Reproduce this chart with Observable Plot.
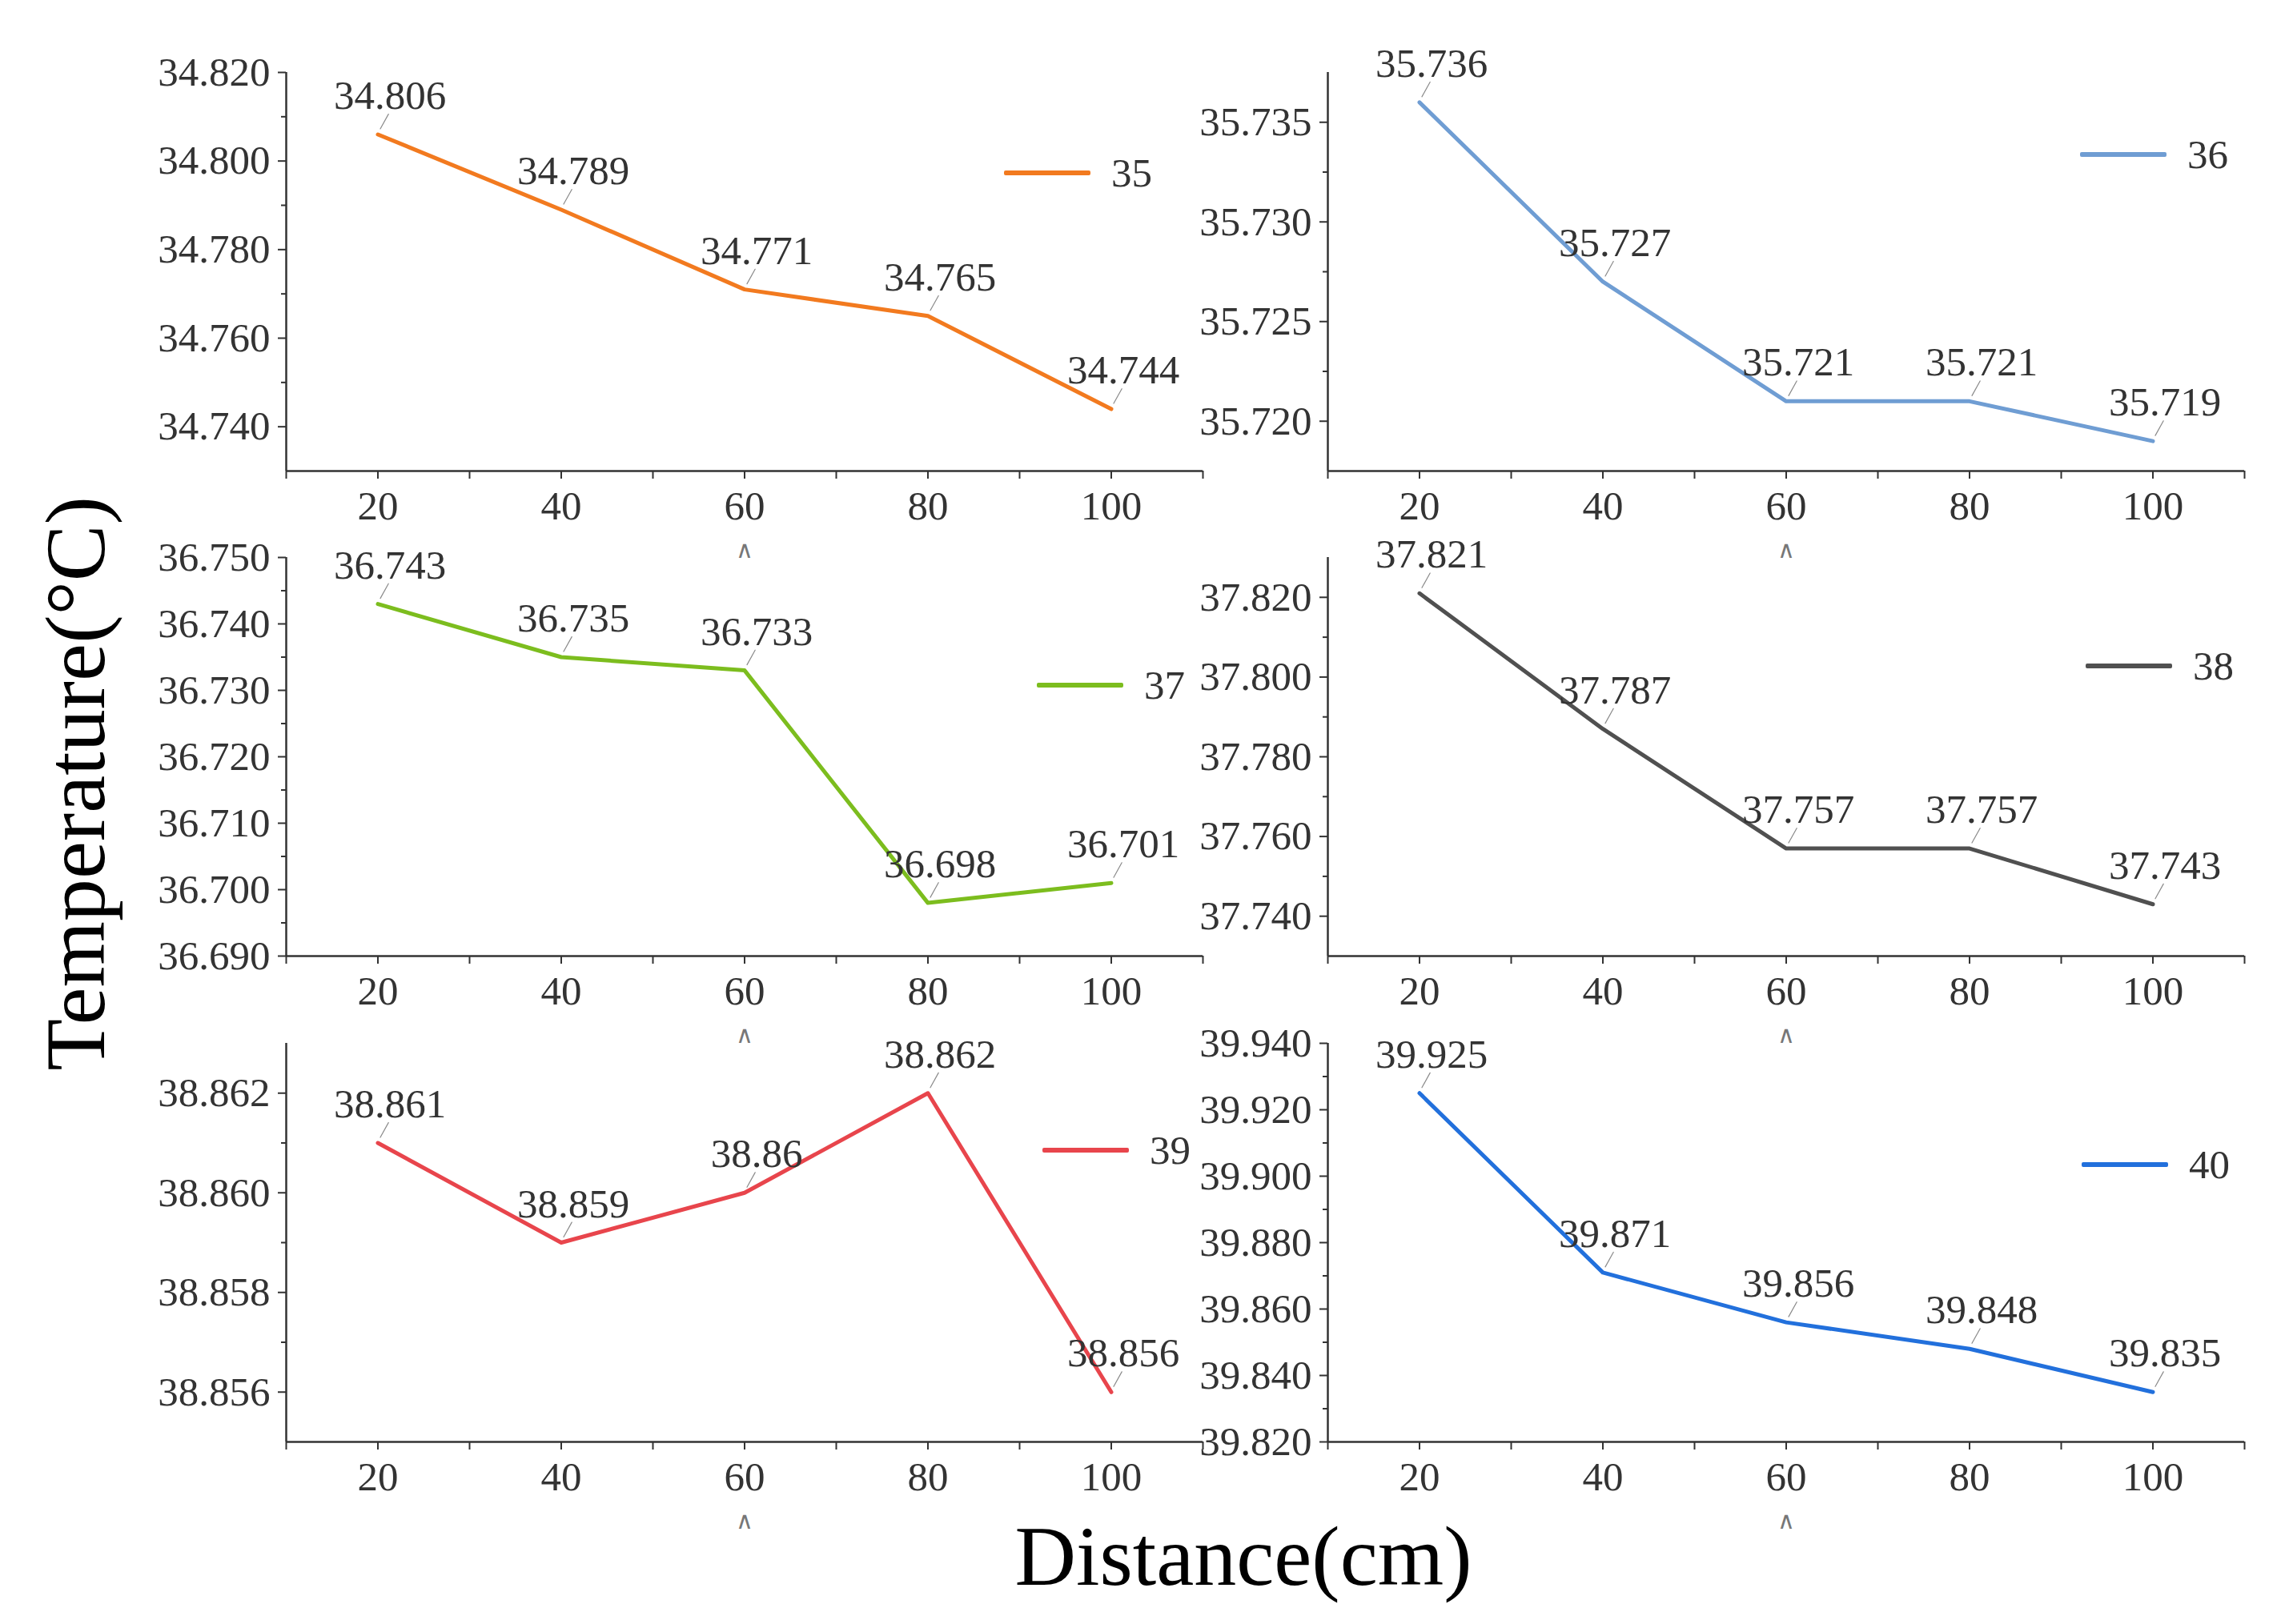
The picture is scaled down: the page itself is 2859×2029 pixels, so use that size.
<!DOCTYPE html>
<html>
<head>
<meta charset="utf-8">
<script src="https://cdn.jsdelivr.net/npm/d3@7"></script>
<script src="https://cdn.jsdelivr.net/npm/@observablehq/plot@0.6"></script>
<style>
  body { margin: 0; background: #fff; }
  #page { position: relative; width: 2859px; height: 2029px; background: #fff; overflow: hidden;
          font-family: "Liberation Serif", "Times New Roman", serif; }
  .panel { position: absolute; }
  .legend { position: absolute; display: flex; align-items: center; font-size: 51px; color: #333; }
  .legend .swatch { display: inline-block; width: 108px; height: 6px; margin-right: 26px; border-radius: 2px; }
  .title { position: absolute; color: #000; font-size: 106px; white-space: nowrap; }
</style>
</head>
<body>
<div id="page"></div>
<script>
// ----------------- data -----------------
const distance = [20, 40, 60, 80, 100];
const series = ["35", "36", "37", "38", "39", "40"];
const t35 = [34.806, 34.789, 34.771, 34.765, 34.744];
const t36 = [35.736, 35.727, 35.721, 35.721, 35.719];
const t37 = [36.743, 36.735, 36.733, 36.698, 36.701];
const t38 = [37.821, 37.787, 37.757, 37.757, 37.743];
const t39 = [38.861, 38.859, 38.86, 38.862, 38.856];
const t40 = [39.925, 39.871, 39.856, 39.848, 39.835];

// axis domains and tick labels
const xDomain = [10, 110];
const xTicks = [20, 40, 60, 80, 100];
const xMinor = [10, 30, 50, 70, 90, 110];
const dom35 = [34.730, 34.820], ticks35 = [34.740, 34.760, 34.780, 34.800, 34.820], minor35 = [34.750, 34.770, 34.790, 34.810];
const dom36 = [35.7175, 35.7375], ticks36 = [35.720, 35.725, 35.730, 35.735], minor36 = [35.7225, 35.7275, 35.7325];
const dom37 = [36.690, 36.750], ticks37 = [36.690, 36.700, 36.710, 36.720, 36.730, 36.740, 36.750], minor37 = [36.695, 36.705, 36.715, 36.725, 36.735, 36.745];
const dom38 = [37.730, 37.830], ticks38 = [37.740, 37.760, 37.780, 37.800, 37.820], minor38 = [37.750, 37.770, 37.790, 37.810];
const dom39 = [38.855, 38.863], ticks39 = [38.856, 38.858, 38.860, 38.862], minor39 = [38.857, 38.859, 38.861];
const dom40 = [39.820, 39.940], ticks40 = [39.820, 39.840, 39.860, 39.880, 39.900, 39.920, 39.940], minor40 = [39.830, 39.850, 39.870, 39.890, 39.910, 39.930];

// ----------------- layout -----------------
const colors = ["#f27a1f", "#6f9dd3", "#7cbd1e", "#505050", "#e8454c", "#2270dc"];
const plotW = 1145, plotH = 498;
const colLeft = [357, 1658];
const rowTop = [90, 696, 1303];
const M = { top: 40, right: 40, bottom: 150, left: 200 };
const legendPos = [[897, 126], [940, 103], [938, 160], [947, 136], [945, 134], [942, 152]];

const panels = [
  { values: t35, domain: dom35, ticks: ticks35, minor: minor35 },
  { values: t36, domain: dom36, ticks: ticks36, minor: minor36 },
  { values: t37, domain: dom37, ticks: ticks37, minor: minor37 },
  { values: t38, domain: dom38, ticks: ticks38, minor: minor38 },
  { values: t39, domain: dom39, ticks: ticks39, minor: minor39 },
  { values: t40, domain: dom40, ticks: ticks40, minor: minor40 }
];

const FONT = "'Liberation Serif', 'Times New Roman', serif";
const leader = { draw(ctx, l) { ctx.moveTo(0, 0); ctx.lineTo(0, -l); } };

function leaderMark(rows){
  const opts = { x: "d", y: "t", anchor: "start", length: 21, rotate: 29, dx: 3, dy: -7,
                 stroke: "#8a8a8a", strokeWidth: 1.2 };
  try { return Plot.vector(rows, { ...opts, shape: leader }); }
  catch (e) { return Plot.vector(rows, { ...opts, shape: "spike", r: 0.6 }); }
}

const page = document.getElementById("page");

panels.forEach((p, i) => {
  const col = i % 2, row = Math.floor(i / 2);
  const rows = distance.map((d, k) => ({ d, t: p.values[k] }));
  const color = colors[i];

  const fig = Plot.plot({
    width: M.left + plotW + M.right,
    height: M.top + plotH + M.bottom,
    marginTop: M.top, marginRight: M.right, marginBottom: M.bottom, marginLeft: M.left,
    style: { background: "transparent", overflow: "visible", fontFamily: FONT, fontSize: "51px", color: "#333" },
    x: { domain: xDomain, axis: null },
    y: { domain: p.domain, axis: null },
    marks: [
      Plot.axisY(p.ticks, { tickSize: 10, tickPadding: 10, tickFormat: d3.format(".3f"), label: null, fontSize: 51, strokeWidth: 2 }),
      Plot.axisY(p.minor, { tickSize: 6, tickFormat: () => null, label: null, strokeWidth: 2 }),
      Plot.axisX(xTicks, { tickSize: 10, tickPadding: 14, label: null, fontSize: 51, strokeWidth: 2 }),
      Plot.axisX(xMinor, { tickSize: 10, tickFormat: () => null, label: null, strokeWidth: 2 }),
      Plot.ruleX([xDomain[0]], { stroke: "#333", strokeWidth: 2.5 }),
      Plot.ruleY([p.domain[0]], { stroke: "#333", strokeWidth: 2.5 }),
      Plot.line(rows, { x: "d", y: "t", stroke: color, strokeWidth: 5 }),
      leaderMark(rows),
      Plot.text(rows, { x: "d", y: "t", text: d => String(d.t), dx: 15, dy: -32, lineAnchor: "bottom", fontSize: 51, fill: "#333" }),
      Plot.text([60], { x: d => d, frameAnchor: "bottom", dy: 108, text: () => "∧", fontSize: 30, fill: "#777" })
    ]
  });

  const wrap = document.createElement("div");
  wrap.className = "panel";
  wrap.style.left = (colLeft[col] - M.left) + "px";
  wrap.style.top = (rowTop[row] - M.top) + "px";
  wrap.appendChild(fig);
  page.appendChild(wrap);

  const lg = document.createElement("div");
  lg.className = "legend";
  lg.style.left = (colLeft[col] + legendPos[i][0]) + "px";
  lg.style.top = (rowTop[row] + legendPos[i][1] - 30) + "px";
  lg.style.height = "60px";
  lg.innerHTML = `<span class="swatch" style="background:${color}"></span><span>${series[i]}</span>`;
  page.appendChild(lg);
});

// shared axis titles
const yt = document.createElement("div");
yt.className = "title";
yt.textContent = "Temperature(°C)";
yt.style.left = "95px"; yt.style.top = "979px";
yt.style.transform = "translate(-50%, -50%) rotate(-90deg)";
page.appendChild(yt);

const xt = document.createElement("div");
xt.className = "title";
xt.textContent = "Distance(cm)";
xt.style.left = "1553px"; xt.style.top = "1945px";
xt.style.transform = "translate(-50%, -50%)";
page.appendChild(xt);
</script>
</body>
</html>
